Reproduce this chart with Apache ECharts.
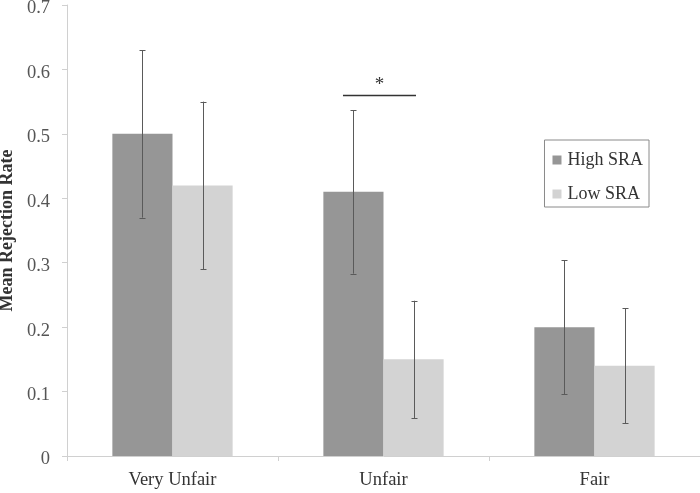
<!DOCTYPE html>
<html>
<head>
<meta charset="utf-8">
<script src="https://cdn.jsdelivr.net/npm/echarts@6/dist/echarts.min.js"></script>
<style>html,body{margin:0;padding:0;background:#fff;}#c{width:700px;height:493px;}</style>
</head>
<body>
<div id="c"></div>
<script>
const categories = ['Very Unfair', 'Unfair', 'Fair'];
const highSRA = [0.50, 0.41, 0.20];
const lowSRA = [0.42, 0.15, 0.14];
const highErr = [0.13, 0.127, 0.104];
const lowErr = [0.13, 0.091, 0.089];
const sigCategory = 1;
const sigLevel = 0.56;
const sigLabel = '*';

const FONT = '"Liberation Serif", "Times New Roman", serif';
const chart = echarts.init(document.getElementById('c'));

function errData(vals, errs) {
  return vals.map((v, i) => [i, v - errs[i], v + errs[i]]);
}
function errSeries(name, vals, errs, side) {
  return {
    type: 'custom',
    name: name + ' err',
    z: 5,
    data: errData(vals, errs),
    renderItem: function (params, api) {
      const band = api.size([1, 0])[0];
      const barW = band * (1 - 0.43) / 2;
      const lo = api.coord([api.value(0), api.value(1)]);
      const hi = api.coord([api.value(0), api.value(2)]);
      const x = Math.round(lo[0] + side * barW / 2) + 0.5;
      const cap = 3;
      const st = { stroke: '#5a5a5a', lineWidth: 1 };
      return {
        type: 'group',
        children: [
          { type: 'line', shape: { x1: x, y1: hi[1], x2: x, y2: lo[1] }, style: st },
          { type: 'line', shape: { x1: x - cap, y1: Math.round(hi[1]) + 0.5, x2: x + cap, y2: Math.round(hi[1]) + 0.5 }, style: st },
          { type: 'line', shape: { x1: x - cap, y1: Math.round(lo[1]) + 0.5, x2: x + cap, y2: Math.round(lo[1]) + 0.5 }, style: st }
        ]
      };
    }
  };
}

const option = {
  animation: false,
  backgroundColor: '#fff',
  grid: { left: 67, right: 0, top: 5, bottom: 37, containLabel: false, outerBoundsMode: 'none' },
  legend: {
    data: ['High SRA', 'Low SRA'],
    orient: 'vertical',
    right: 51,
    top: 140,
    borderColor: '#8a8a8a',
    borderWidth: 1,
    padding: [11, 6, 4, 8],
    itemWidth: 9,
    itemHeight: 9,
    itemGap: 16,
    icon: 'rect',
    textStyle: { fontFamily: FONT, fontSize: 18, color: '#333', padding: [0, 0, 0, 1] }
  },
  xAxis: {
    type: 'category',
    data: categories,
    axisLine: { lineStyle: { color: '#d0d0d0', width: 1 } },
    axisTick: { show: true, length: 5, lineStyle: { color: '#d0d0d0' } },
    axisLabel: { fontFamily: FONT, fontSize: 18.5, color: '#333', margin: 15 },
    splitLine: { show: false }
  },
  yAxis: {
    type: 'value',
    min: 0,
    max: 0.7,
    interval: 0.1,
    name: 'Mean Rejection Rate',
    nameLocation: 'middle',
    nameGap: 44,
    nameRotate: 90,
    nameTextStyle: { fontFamily: FONT, fontSize: 18, fontWeight: 'bold', color: '#333' },
    axisLine: { show: true, lineStyle: { color: '#d0d0d0' } },
    axisTick: { show: true, length: 5, lineStyle: { color: '#d0d0d0' } },
    axisLabel: {
      margin: 17,
      formatter: v => '{t|' + (Math.round(v * 10) / 10).toString() + '}',
      rich: { t: { fontFamily: FONT, fontSize: 18.5, color: '#555', padding: [7, 0, 0, 0] } }
    },
    splitLine: { show: false }
  },
  series: [
    {
      name: 'High SRA', type: 'bar', data: highSRA,
      barGap: '0%', barCategoryGap: '43%',
      itemStyle: { color: '#969696' }
    },
    {
      name: 'Low SRA', type: 'bar', data: lowSRA,
      barGap: '0%', barCategoryGap: '43%',
      itemStyle: { color: '#d3d3d3' }
    },
    errSeries('High SRA', highSRA, highErr, -1),
    errSeries('Low SRA', lowSRA, lowErr, 1),
    {
      type: 'custom',
      name: 'sig',
      z: 6,
      data: [[sigCategory, sigLevel]],
      renderItem: function (params, api) {
        const band = api.size([1, 0])[0];
        const p = api.coord([api.value(0), api.value(1)]);
        const y = Math.round(p[1]) + 0.5;
        const x1 = p[0] - band * 0.192;
        const x2 = p[0] + band * 0.154;
        return {
          type: 'group',
          children: [
            { type: 'line', shape: { x1: x1, y1: y, x2: x2, y2: y }, style: { stroke: '#333', lineWidth: 1.3 } },
            { type: 'text', style: { text: sigLabel, x: (x1 + x2) / 2, y: y - 1, textAlign: 'center', textVerticalAlign: 'bottom', font: '19px ' + FONT, fill: '#333' } }
          ]
        };
      }
    }
  ]
};
chart.setOption(option);
</script>
</body>
</html>
